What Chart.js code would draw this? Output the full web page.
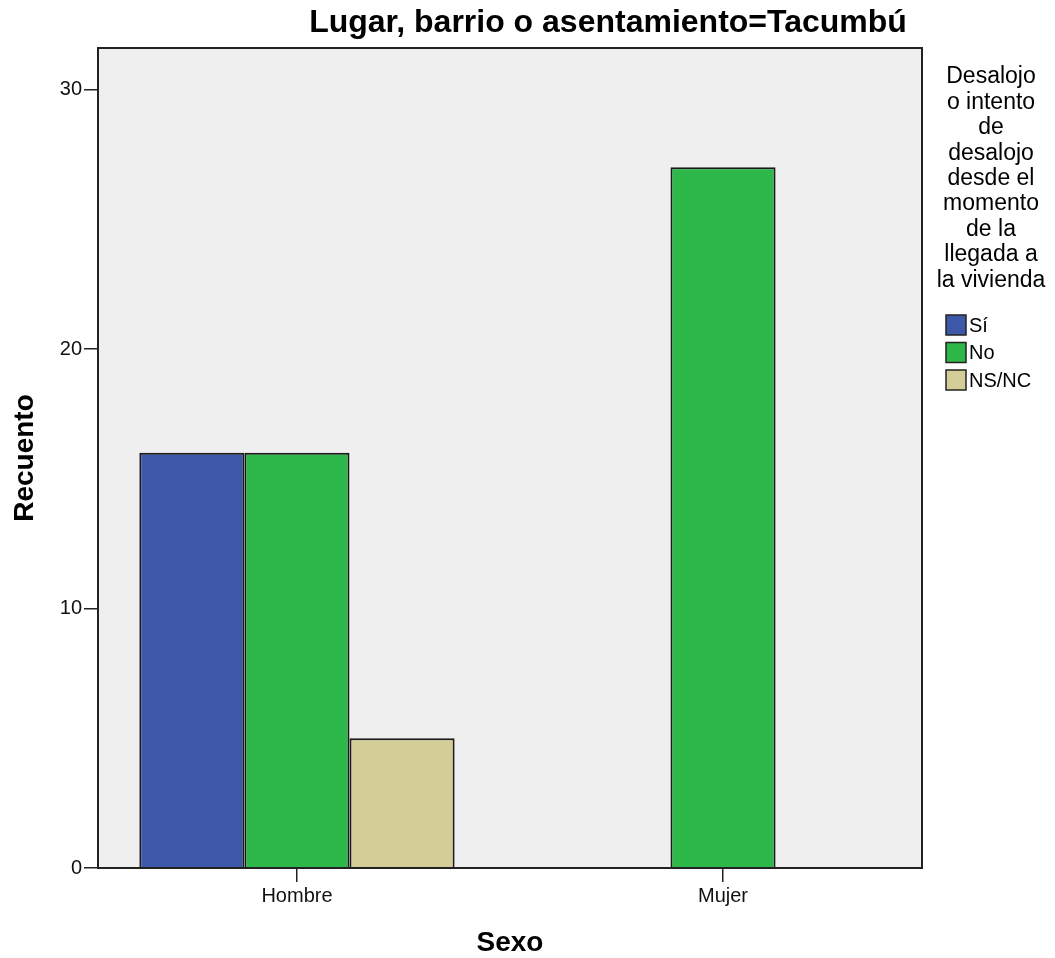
<!DOCTYPE html>
<html>
<head>
<meta charset="utf-8">
<script src="https://cdn.jsdelivr.net/npm/chart.js@4.4.0/dist/chart.umd.min.js"></script>
<style>
  html, body { margin: 0; padding: 0; background: #fff; }
  #wrap { width: 1055px; height: 958px; }
</style>
</head>
<body>
<div id="wrap"><canvas id="chart"></canvas></div>
<script>
// data
const sexo = ['Hombre', 'Mujer'];
const respuestas = ['Sí', 'No', 'NS/NC'];
const valoresSi = [16, 0];
const valoresNo = [16, 27];
const valoresNsnc = [5, 0];
const yTicks = [0, 10, 20, 30];
const colores = ['#3d57a9', '#2eb84a', '#d3ce98'];
const tituloLeyenda = ['Desalojo', 'o intento', 'de', 'desalojo', 'desde el', 'momento', 'de la', 'llegada a', 'la vivienda'];
const titulo = 'Lugar, barrio o asentamiento=Tacumbú';

const FONT = '"Liberation Sans", Arial, sans-serif';

// categories sit at x = 0, 1 on a linear axis so the plot margins can be uneven like the original
const puntos = vals => vals.map((v, i) => ({ x: i, y: v }));

const marco = {
    id: 'marco',
    beforeDraw(chart) {
        const a = chart.chartArea;
        const ctx = chart.ctx;
        ctx.save();
        ctx.fillStyle = '#efefef';
        ctx.fillRect(a.left, a.top, a.right - a.left, a.bottom - a.top);
        ctx.restore();
    },
    afterDraw(chart) {
        const a = chart.chartArea;
        const ctx = chart.ctx;
        ctx.save();
        // frame around plot
        ctx.strokeStyle = '#222';
        ctx.lineWidth = 2;
        ctx.strokeRect(a.left, a.top, a.right - a.left, a.bottom - a.top);

        // title
        ctx.fillStyle = '#000';
        ctx.font = 'bold 32px ' + FONT;
        ctx.textAlign = 'center';
        ctx.textBaseline = 'middle';
        ctx.fillText(titulo, 608, 23);

        // legend title
        ctx.font = '23px ' + FONT;
        tituloLeyenda.forEach((t, i) => ctx.fillText(t, 991, 77 + i * 25.4));

        // legend items
        ctx.textAlign = 'left';
        ctx.font = '20px ' + FONT;
        chart.data.datasets.forEach((ds, i) => {
            const y = 325 + i * 27.5;
            ctx.fillStyle = ds.backgroundColor;
            ctx.fillRect(946, y - 10, 20, 20);
            ctx.strokeStyle = '#222';
            ctx.lineWidth = 1.5;
            ctx.strokeRect(946, y - 10, 20, 20);
            ctx.fillStyle = '#000';
            ctx.fillText(ds.label, 969, y + 1);
        });
        ctx.restore();
    }
};

new Chart(document.getElementById('chart'), {
    type: 'bar',
    data: {
        datasets: [
            { label: respuestas[0], data: puntos(valoresSi), backgroundColor: colores[0] },
            { label: respuestas[1], data: puntos(valoresNo), backgroundColor: colores[1] },
            { label: respuestas[2], data: puntos(valoresNsnc), backgroundColor: colores[2] }
        ]
    },
    options: {
        responsive: true,
        maintainAspectRatio: false,
        animation: false,
        layout: { padding: { top: 48, right: 133, left: 0, bottom: 0 } },
        datasets: {
            bar: {
                borderColor: '#1a1a1a',
                borderWidth: 2,
                barPercentage: 1,
                categoryPercentage: 0.74
            }
        },
        plugins: {
            legend: { display: false },
            title: { display: false },
            tooltip: { enabled: false }
        },
        scales: {
            x: {
                type: 'linear',
                offset: false,
                min: -0.467,
                max: 1.467,
                afterFit(scale) { scale.height = 90; },
                afterBuildTicks(scale) { scale.ticks = sexo.map((s, i) => ({ value: i })); },
                grid: {
                    offset: false,
                    drawOnChartArea: false,
                    drawTicks: true,
                    tickLength: 14,
                    color: '#222',
                    lineWidth: 1.5
                },
                border: { display: true, color: '#222', width: 2 },
                ticks: {
                    color: '#111',
                    padding: 2,
                    font: { family: FONT, size: 20 },
                    callback: v => sexo[v]
                },
                title: {
                    display: true,
                    text: 'Sexo',
                    color: '#000',
                    padding: { top: 0, bottom: 1 },
                    font: { family: FONT, size: 28, weight: 'bold', lineHeight: 1 }
                }
            },
            y: {
                min: 0,
                max: 31.6,
                afterFit(scale) { scale.width = 98; },
                afterBuildTicks(scale) { scale.ticks = yTicks.map(v => ({ value: v })); },
                grid: {
                    drawOnChartArea: false,
                    drawTicks: true,
                    tickLength: 14,
                    color: '#222',
                    lineWidth: 1.5
                },
                border: { display: true, color: '#222', width: 2 },
                ticks: {
                    color: '#111',
                    padding: 2,
                    font: { family: FONT, size: 20 }
                },
                title: {
                    display: true,
                    text: 'Recuento',
                    color: '#000',
                    padding: { top: 11, bottom: 0 },
                    font: { family: FONT, size: 28, weight: 'bold', lineHeight: 1 }
                }
            }
        }
    },
    plugins: [marco]
});
</script>
</body>
</html>
